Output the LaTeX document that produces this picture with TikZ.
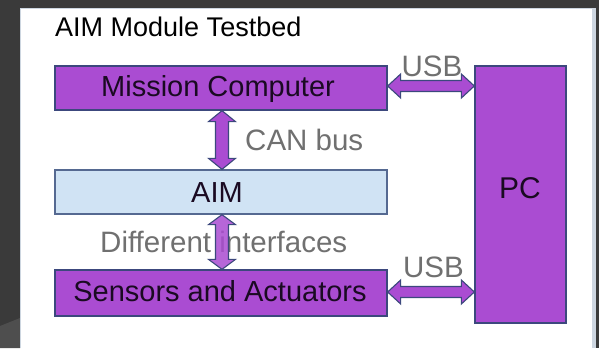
\documentclass[tikz,border=0pt]{standalone}
\usepackage{fontspec}
\setmainfont{Liberation Sans}
\usetikzlibrary{calc}
\definecolor{bgdark}{RGB}{58,58,58}
\definecolor{bgmid}{RGB}{78,78,78}
\definecolor{paneledge}{RGB}{205,214,224}
\definecolor{purplefill}{RGB}{170,76,210}
\definecolor{navyedge}{RGB}{60,72,125}
\definecolor{aimfill}{RGB}{208,227,244}
\definecolor{aimedge}{RGB}{85,105,145}
\definecolor{boxtext}{RGB}{26,10,34}
\definecolor{labelgray}{RGB}{112,112,112}
\tikzset{
  purplebox/.style={draw=navyedge, line width=1.3pt, fill=purplefill, inner sep=0pt},
  aimbox/.style={draw=aimedge, line width=1.3pt, fill=aimfill, inner sep=0pt},
  boxlabel/.style={text=boxtext, anchor=base, inner sep=0pt, font=\fontsize{29}{32}\selectfont},
  blockarrow/.style={draw=navyedge, line width=1.1pt, fill=purplefill, line join=miter},
  lbl/.style={text=labelgray, inner sep=0pt, font=\fontsize{29.5}{32}\selectfont, anchor=base},
}
\begin{document}
\begin{tikzpicture}[x=1pt,y=-1pt]
\useasboundingbox (0,0) rectangle (599,348);
% background
\fill[bgdark] (0,0) rectangle (599,348);
\fill[bgmid] (0,326) -- (20,318) -- (20,348) -- (0,348) -- cycle;
\fill[white] (20,8) rectangle (596,348);
\draw[paneledge, line width=1pt] (20.5,348) -- (20.5,8.5) -- (595.5,8.5) -- (595.5,348);
\fill[paneledge] (592,8) rectangle (596,348);

% title
\node[anchor=base west, inner sep=0pt, font=\fontsize{27}{30}\selectfont] (title) at (55,36) {AIM Module Testbed};

% boxes
\node[purplebox, minimum width=332pt, minimum height=44pt] (mc) at (221,88) {};
\node[boxlabel] (mct) at (218,96.5) {Mission Computer};
\node[aimbox, minimum width=332pt, minimum height=44pt] (aim) at (221,192) {};
\node[boxlabel] (aimt) at (217,202) {AIM};
\node[purplebox, minimum width=332pt, minimum height=46pt] (sa) at (221,293) {};
\node[boxlabel] (sat) at (220,301) {Sensors and Actuators};
\node[purplebox, minimum width=91pt, minimum height=257pt] (pc) at (520.5,194.5) {};
\node[boxlabel, font=\fontsize{30}{32}\selectfont] (pct) at (520,198) {PC};

% labels
\node[lbl, anchor=base west] (can) at (245,150) {CAN bus};
\node[lbl, anchor=base west] (diff) at (100,252) {Different interfaces};
\node[lbl] (usb1) at (432,76) {USB};
\node[lbl] (usb2) at (433.5,277) {USB};

% vertical arrows
\draw[blockarrow] let \p1=($(mc.south)+(1,0)$), \p2=($(aim.north)+(1,0)$) in
  (\x1,\y1) -- (\x1+13.5pt,\y1-11pt) -- (\x1+6.5pt,\y1-11pt) -- (\x1+6.5pt,\y2+11pt) -- (\x1+13.5pt,\y2+11pt)
  -- (\x2,\y2) -- (\x1-13.5pt,\y2+11pt) -- (\x1-6.5pt,\y2+11pt) -- (\x1-6.5pt,\y1-11pt) -- (\x1-13.5pt,\y1-11pt) -- cycle;
\draw[blockarrow, fill opacity=0.85] let \p1=($(aim.south)+(1,0)$), \p2=($(sa.north)+(1,0)$) in
  (\x1,\y1) -- (\x1+13.5pt,\y1-10pt) -- (\x1+6.5pt,\y1-10pt) -- (\x1+6.5pt,\y2+10pt) -- (\x1+13.5pt,\y2+10pt)
  -- (\x2,\y2) -- (\x1-13.5pt,\y2+10pt) -- (\x1-6.5pt,\y2+10pt) -- (\x1-6.5pt,\y1-10pt) -- (\x1-13.5pt,\y1-10pt) -- cycle;

% horizontal USB arrows
\draw[blockarrow] let \p1=($(mc.east)+(0,-2)$), \p2=($(pc.west|-mc.east)+(0,-2)$) in
  (\x1,\y1) -- (\x1+13pt,\y1+12pt) -- (\x1+13pt,\y1+5.5pt) -- (\x2-13pt,\y1+5.5pt) -- (\x2-13pt,\y1+12pt)
  -- (\x2,\y2) -- (\x2-13pt,\y1-12pt) -- (\x2-13pt,\y1-5.5pt) -- (\x1+13pt,\y1-5.5pt) -- (\x1+13pt,\y1-12pt) -- cycle;
\draw[blockarrow] let \p1=($(sa.east)+(0,-1)$), \p2=($(pc.west|-sa.east)+(0,-1)$) in
  (\x1,\y1) -- (\x1+13pt,\y1+12pt) -- (\x1+13pt,\y1+5.5pt) -- (\x2-13pt,\y1+5.5pt) -- (\x2-13pt,\y1+12pt)
  -- (\x2,\y2) -- (\x2-13pt,\y1-12pt) -- (\x2-13pt,\y1-5.5pt) -- (\x1+13pt,\y1-5.5pt) -- (\x1+13pt,\y1-12pt) -- cycle;
\end{tikzpicture}
\end{document}
